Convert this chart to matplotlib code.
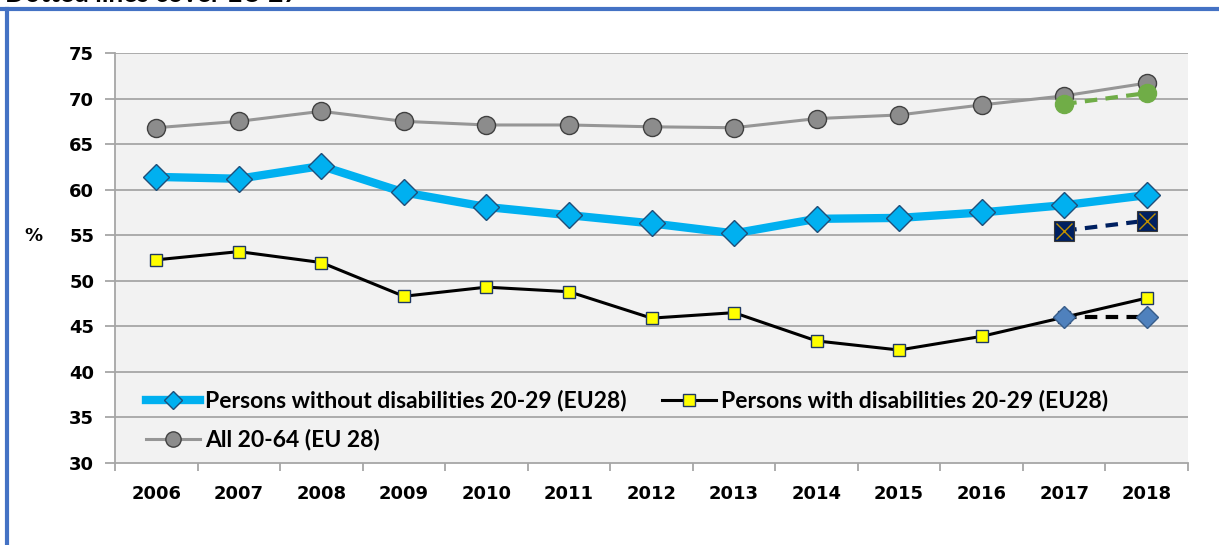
import numpy as np
import matplotlib
matplotlib.use('Agg')
from matplotlib import pyplot as plt
from matplotlib.lines import Line2D

years = ['2006', '2007', '2008', '2009', '2010', '2011', '2012',
         '2013', '2014', '2015', '2016', '2017', '2018']

# EU28 series
without_dis = [61.4, 61.2, 62.6, 59.7, 58.1, 57.2, 56.3, 55.2, 56.8, 56.9, 57.5, 58.3, 59.4]
with_dis = [52.3, 53.2, 52.0, 48.3, 49.3, 48.8, 45.9, 46.5, 43.4, 42.4, 43.9, 46.0, 48.1]
all_2064 = [66.8, 67.5, 68.6, 67.5, 67.1, 67.1, 66.9, 66.8, 67.8, 68.2, 69.3, 70.3, 71.7]

# EU27 (dotted lines), 2017-2018
eu27_years = ['2017', '2018']
all_eu27 = [69.4, 70.6]
without_eu27 = [55.5, 56.6]
with_eu27 = [46.0, 46.0]

x = np.arange(len(years))
x27 = np.array([years.index(y) for y in eu27_years])

fig = plt.figure(figsize=(12.19, 5.45), dpi=100)
ax = fig.add_axes([115 / 1219, 1 - 463 / 545, (1188 - 115) / 1219, (463 - 53) / 545])
ax.set_facecolor('#f2f2f2')

grid_c = '#a6a6a6'
for v in range(35, 80, 5):
    ax.axhline(v, color=grid_c, lw=1.3, zorder=1)

# main lines
ax.plot(x, all_2064, color='#969696', lw=2.2, marker='o', ms=13,
        mfc='#8c8c8c', mec='#404040', mew=1, zorder=3)
ax.plot(x, without_dis, color='#00b0f0', lw=6, marker='D', ms=13,
        mfc='#00b0f0', mec='#1f4e79', mew=1, zorder=3)
ax.plot(x, with_dis, color='black', lw=2.2, marker='s', ms=9,
        mfc='#ffff00', mec='#1f3864', mew=1, zorder=3)

# EU27 dotted lines
ax.plot(x27, all_eu27, color='#70ad47', lw=3, ls=(0, (3, 2)), marker='o', ms=13,
        mfc='#70ad47', mec='#70ad47', zorder=4)
ax.plot(x27, without_eu27, color='#002060', lw=3, ls=(0, (3, 2)), marker='s', ms=14,
        mfc='#002060', mec='#3a3a3a', mew=0.8, zorder=4)
ax.plot(x27, without_eu27, ls='none', marker='x', ms=12, mec='#bf9000', mew=1, zorder=5)
ax.plot(x27, with_eu27, color='black', lw=3, ls=(0, (3, 2)), marker='D', ms=11,
        mfc='#4f81bd', mec='#385d8a', mew=1, zorder=4)

ax.set_xlim(-0.5, len(years) - 0.5)
ax.set_ylim(30, 75)
ax.set_xticks(x)
ax.set_xticklabels(years, fontsize=13, fontweight='bold')
ax.set_xticks(np.arange(-0.5, len(years)), minor=True)
ax.tick_params(axis='x', which='major', length=0, pad=16)
ax.tick_params(axis='x', which='minor', length=6, color=grid_c, width=1.3)
ax.set_yticks(range(30, 80, 5))
ax.set_yticklabels([str(v) for v in range(30, 80, 5)], fontsize=13, fontweight='bold')
ax.tick_params(axis='y', length=7, color=grid_c, width=1.3, pad=8)

for s in ['top', 'right']:
    ax.spines[s].set_visible(False)
ax.spines['left'].set_color(grid_c)
ax.spines['left'].set_linewidth(1.3)
ax.spines['bottom'].set_color(grid_c)
ax.spines['bottom'].set_linewidth(1.3)

fig.text(33 / 1219, 1 - 236 / 545, '%', fontsize=13, fontweight='bold', ha='center', va='center')

handles = [
    Line2D([], [], color='#00b0f0', lw=6, marker='D', ms=9, mfc='#00b0f0', mec='#1f4e79'),
    Line2D([], [], color='#969696', lw=2.2, marker='o', ms=11, mfc='#8c8c8c', mec='#404040'),
    Line2D([], [], color='black', lw=2.2, marker='s', ms=9, mfc='#ffff00', mec='#1f3864'),
]
labels = ['Persons without disabilities 20-29 (EU28)', 'All 20-64 (EU 28)',
          'Persons with disabilities 20-29 (EU28)']
ax.legend(handles, labels, ncol=2, frameon=False, loc='lower left',
          bbox_to_anchor=(0.029, 0.03), borderaxespad=0, borderpad=0,
          handlelength=2.35, handletextpad=0.22,
          columnspacing=1.55, labelspacing=0.75,
          prop={'family': 'Lato', 'weight': 'bold', 'size': 16.5})

# blue frame (top and left) and cut-off note
fig.add_artist(Line2D([0, 1], [1 - 8.5 / 545] * 2, color='#4472c4', lw=3, transform=fig.transFigure))
fig.add_artist(Line2D([7 / 1219] * 2, [0, 1 - 8.5 / 545], color='#4472c4', lw=3, transform=fig.transFigure))
fig.text(5 / 1219, 1 - 1.5 / 545, 'Dotted lines cover EU 27', fontsize=19, fontweight='bold',
         family='Lato', ha='left', va='baseline')

fig.savefig('out.png', dpi=100, facecolor='white')
